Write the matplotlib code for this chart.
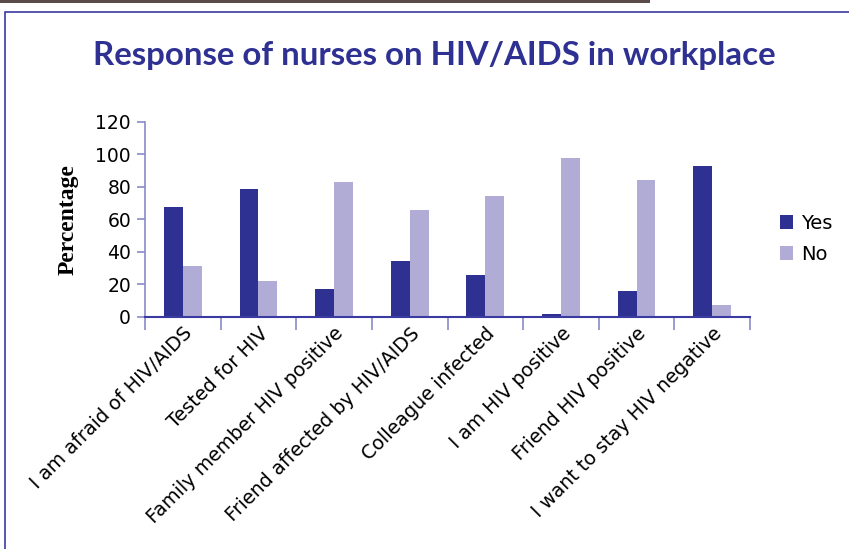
import matplotlib
matplotlib.use("Agg")
import matplotlib.pyplot as plt
import numpy as np
from matplotlib.patches import Rectangle

categories = [
    "I am afraid of HIV/AIDS",
    "Tested for HIV",
    "Family member HIV positive",
    "Friend affected by HIV/AIDS",
    "Colleague infected",
    "I am HIV positive",
    "Friend HIV positive",
    "I want to stay HIV negative",
]
yes_vals = [67.5, 78.6, 17.0, 34.3, 25.6, 1.7, 15.8, 92.7]
no_vals = [31.2, 22.0, 82.9, 65.6, 74.3, 97.6, 84.1, 7.2]
yticks = [0, 20, 40, 60, 80, 100, 120]

dark = "#2e3192"
light = "#b0acd5"
spine_c = "#3a3aa0"
tick_c = "#8a8ac8"

fig = plt.figure(figsize=(8.49, 5.49), dpi=100)
ax = fig.add_axes([0.1708, 0.4231, 0.7126, 0.3552])

x = np.arange(len(categories))
w = 0.25
ax.bar(x - w / 2, yes_vals, w, color=dark, label="Yes")
ax.bar(x + w / 2, no_vals, w, color=light, label="No")

ax.set_xlim(-0.5, len(categories) - 0.5)
ax.set_ylim(0, 120)
ax.set_yticks(yticks)
ax.set_yticklabels([str(v) for v in yticks], fontsize=13.5, fontfamily="DejaVu Sans")

# category boundaries carry the ticks, labels sit at centres
ax.set_xticks(np.arange(len(categories) + 1) - 0.5)
ax.set_xticklabels([])
ax.set_xticks(x, minor=True)
ax.set_xticklabels(categories, minor=True, rotation=45, ha="right", va="top",
                   rotation_mode="anchor", fontsize=13.8)
ax.tick_params(axis="x", which="minor", length=0, pad=5)
ax.tick_params(axis="x", which="major", length=9, color=tick_c, width=1.2)
ax.tick_params(axis="y", length=6, color=tick_c, width=1.2, pad=4)

for s in ["top", "right"]:
    ax.spines[s].set_visible(False)
ax.spines["left"].set_color(tick_c)
ax.spines["left"].set_linewidth(1.2)
ax.spines["bottom"].set_color(spine_c)
ax.spines["bottom"].set_linewidth(1.5)

ax.set_ylabel("Percentage", fontsize=17, fontweight="bold",
              fontfamily="Liberation Serif", labelpad=12)

fig.text(0.512, 0.898, "Response of nurses on HIV/AIDS in workplace",
         ha="center", va="center", fontsize=23.8, fontweight="bold",
         color=dark, fontfamily="Lato")

leg = ax.legend(loc="center left", bbox_to_anchor=(1.02, 0.40), frameon=False,
                fontsize=14, handlelength=0.7, handleheight=0.7,
                handletextpad=0.4, labelspacing=0.6)

# frame of the page box and the scrap of photo above it
fig.patches.append(Rectangle((5 / 849, -0.1), 1.0, 1 - 12 / 549 + 0.1,
                             transform=fig.transFigure, fill=False,
                             edgecolor=spine_c, linewidth=1.2))
fig.patches.append(Rectangle((0, 1 - 3 / 549), 650 / 849, 3 / 549,
                             transform=fig.transFigure, color="#5a4a4a",
                             linewidth=0))

fig.savefig("out.png", dpi=100)
